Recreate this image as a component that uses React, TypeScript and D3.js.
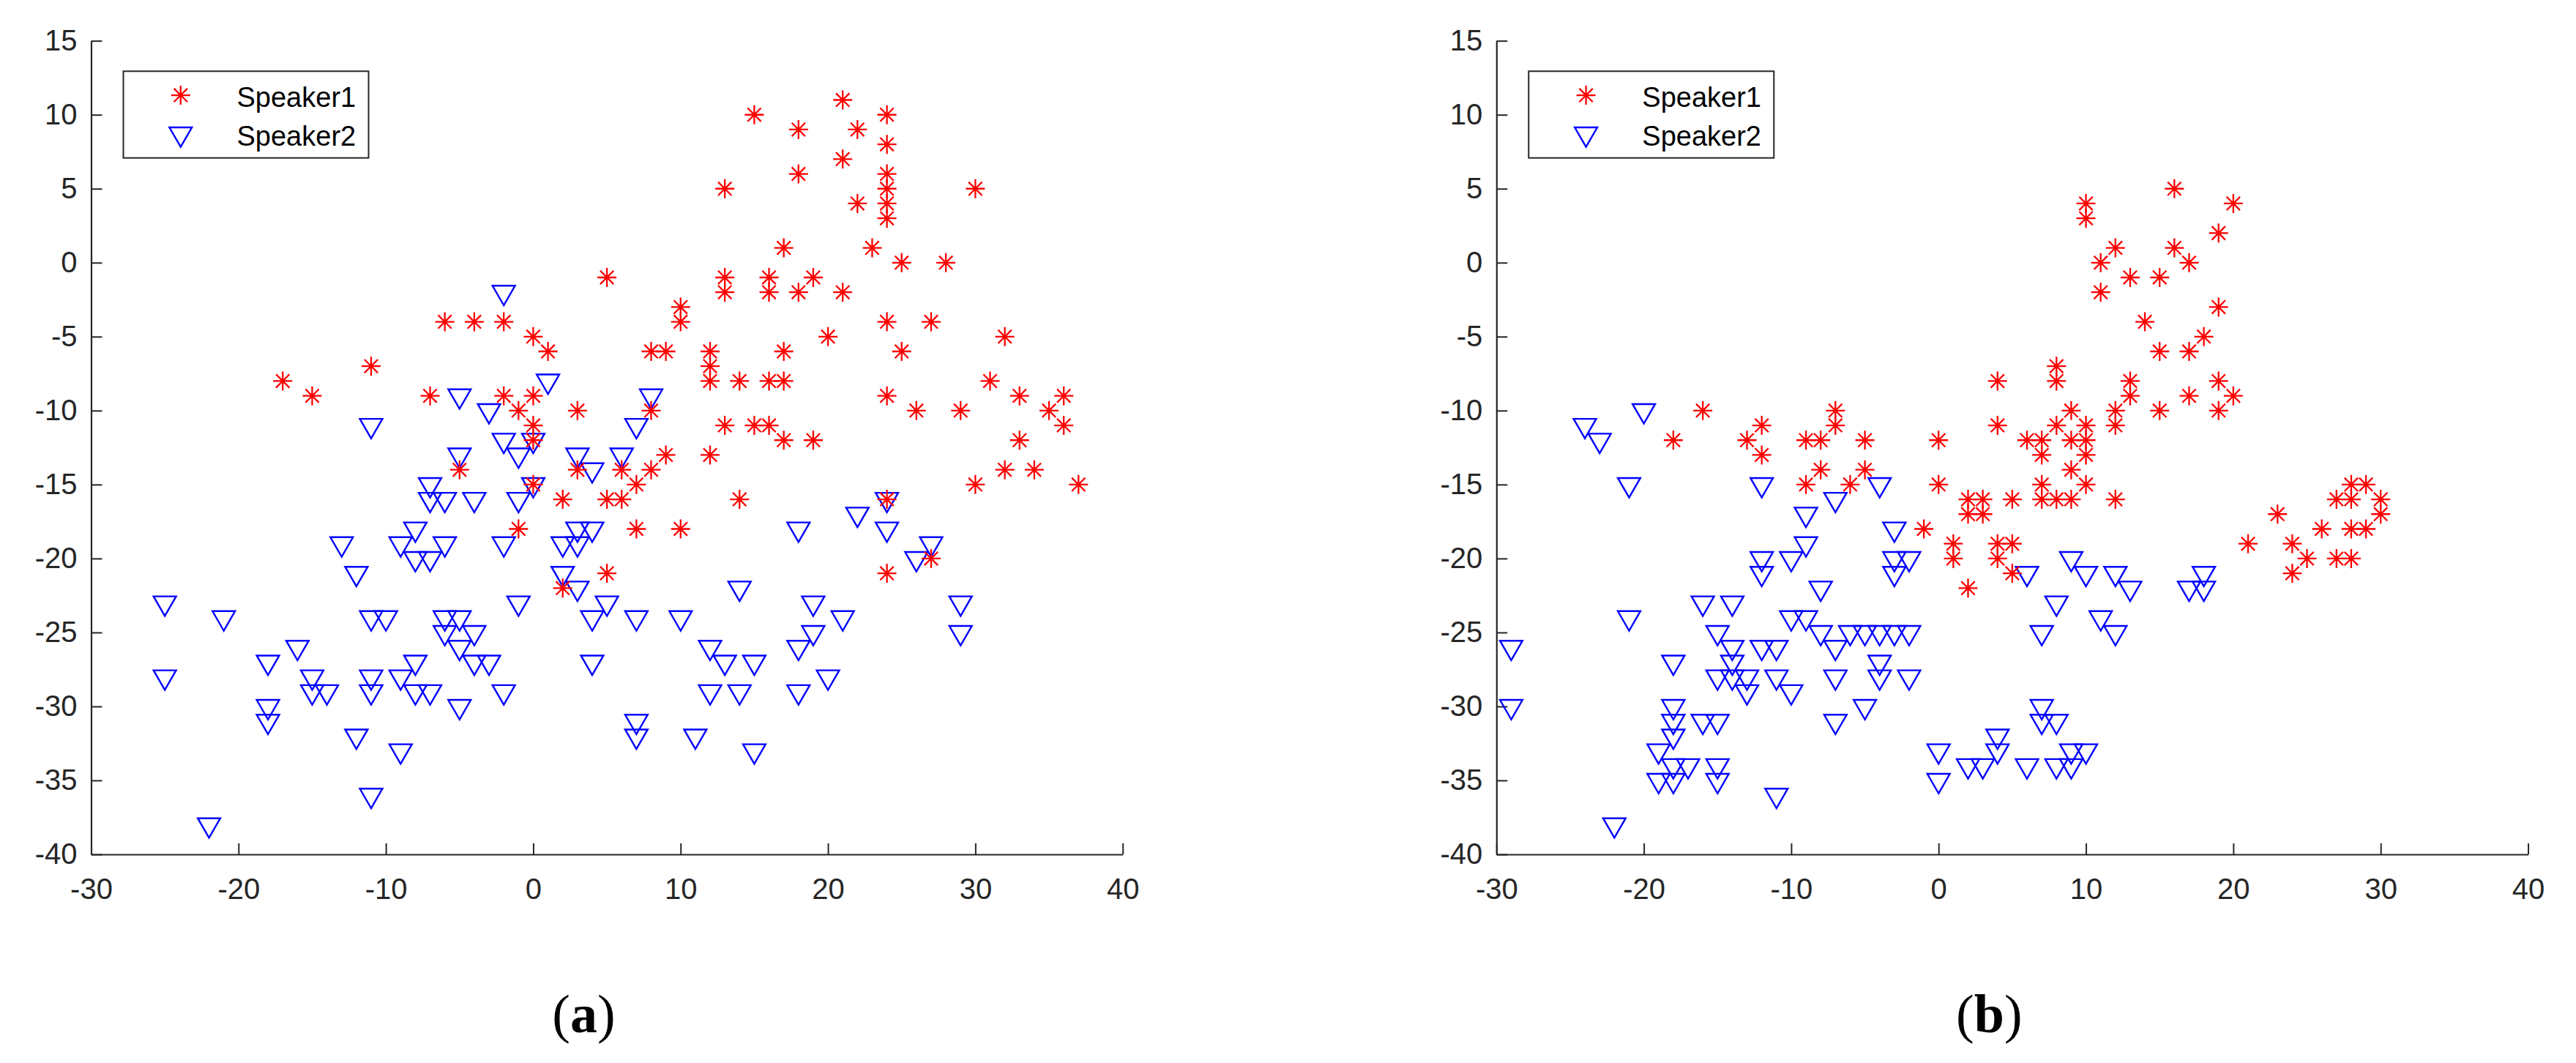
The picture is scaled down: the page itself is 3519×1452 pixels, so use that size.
import React, { useRef, useEffect } from "react";
import * as d3 from "d3";

// panel (a) - Speaker1 (red asterisks)
const speaker1A: [number, number][] = [
  [-6, -4], [-4, -4], [-2, -4], [0, -5], [1, -6], [-11, -7], [-17, -8], [-15, -9],
  [-7, -9], [-2, -9], [0, -9], [-1, -10], [3, -10], [0, -11], [0, -12], [5, -1],
  [-5, -14], [3, -14], [0, -15], [2, -16], [5, -16], [-1, -18], [2, -22], [5, -21],
  [21, 11], [15, 10], [24, 10], [18, 9], [22, 9], [24, 8], [21, 7], [18, 6], [24, 6],
  [13, 5], [24, 5], [30, 5], [22, 4], [24, 4], [24, 3], [17, 1], [23, 1], [25, 0],
  [28, 0], [13, -1], [16, -1], [19, -1], [13, -2], [16, -2], [18, -2], [21, -2],
  [10, -3], [10, -4], [24, -4], [27, -4], [20, -5], [32, -5], [8, -6], [9, -6],
  [12, -6], [17, -6], [25, -6], [12, -7], [12, -8], [14, -8], [16, -8], [17, -8],
  [31, -8], [24, -9], [33, -9], [36, -9], [8, -10], [26, -10], [29, -10], [35, -10],
  [13, -11], [15, -11], [16, -11], [36, -11], [17, -12], [19, -12], [33, -12],
  [9, -13], [12, -13], [6, -14], [8, -14], [32, -14], [34, -14], [7, -15], [30, -15],
  [37, -15], [6, -16], [14, -16], [24, -16], [7, -18], [10, -18], [24, -21], [27, -20],
];

// panel (a) - Speaker2 (blue triangles)
const speaker2A: [number, number][] = [
  [-2, -2], [-5, -9], [1, -8], [-3, -10], [-11, -11], [-2, -12], [0, -12], [-5, -13],
  [-1, -13], [3, -13], [4, -14], [-7, -15], [0, -15], [-7, -16], [-6, -16], [-4, -16],
  [-1, -16], [-8, -18], [3, -18], [4, -18], [-13, -19], [-9, -19], [-6, -19], [-2, -19],
  [2, -19], [3, -19], [-8, -20], [-7, -20], [-12, -21], [2, -21], [3, -22], [5, -23],
  [-25, -23], [-1, -23], [-21, -24], [-11, -24], [-10, -24], [-6, -24], [-5, -24],
  [4, -24], [-6, -25], [-4, -25], [-5, -26], [-16, -26], [-18, -27], [-8, -27],
  [-4, -27], [-3, -27], [4, -27], [-25, -28], [-15, -28], [-11, -28], [-9, -28],
  [-15, -29], [-14, -29], [-11, -29], [-8, -29], [-7, -29], [-2, -29], [-18, -30],
  [-5, -30], [-18, -31], [-12, -32], [-9, -33], [-11, -36], [-22, -38],
  [8, -9], [7, -11], [6, -13], [22, -17], [18, -18], [24, -18], [27, -19], [26, -20],
  [14, -22], [19, -23], [29, -23], [7, -24], [10, -24], [21, -24], [19, -25], [29, -25],
  [12, -26], [18, -26], [13, -27], [15, -27], [20, -28], [12, -29], [14, -29], [18, -29],
  [7, -31], [7, -32], [11, -32], [15, -33], [24, -16],
];

// panel (b) - Speaker1
const speaker1B: [number, number][] = [
  [4, -8], [4, -11], [-16, -10], [-7, -10], [-7, -11], [-12, -11], [-18, -12], [-13, -12],
  [-9, -12], [-8, -12], [-5, -12], [0, -12], [-12, -13], [-8, -14], [-5, -14], [-9, -15],
  [-6, -15], [0, -15], [2, -16], [3, -16], [2, -17], [3, -17], [5, -16], [-1, -18],
  [1, -19], [1, -20], [4, -19], [4, -20], [2, -22], [5, -21], [5, -19],
  [16, 5], [10, 4], [10, 3], [20, 4], [19, 2], [12, 1], [16, 1], [11, 0], [17, 0],
  [13, -1], [15, -1], [11, -2], [19, -3], [14, -4], [18, -5], [15, -6], [17, -6],
  [8, -7], [8, -8], [13, -8], [19, -8], [13, -9], [17, -9], [20, -9], [9, -10],
  [12, -10], [15, -10], [19, -10], [8, -11], [10, -11], [12, -11], [6, -12], [7, -12],
  [9, -12], [10, -12], [7, -13], [10, -13], [9, -14], [7, -15], [10, -15], [7, -16],
  [8, -16], [9, -16], [12, -16], [23, -17], [28, -15], [29, -15], [27, -16], [28, -16],
  [30, -16], [30, -17], [26, -18], [28, -18], [29, -18], [21, -19], [24, -19], [25, -20],
  [27, -20], [28, -20], [24, -21],
];

// panel (b) - Speaker2
const speaker2B: [number, number][] = [
  [-24, -11], [-23, -12], [-20, -10], [-21, -15], [-12, -15], [-4, -15], [-7, -16],
  [-9, -17], [-3, -18], [-9, -19], [-12, -20], [-10, -20], [-3, -20], [-2, -20],
  [-12, -21], [-3, -21], [-8, -22], [-16, -23], [-14, -23], [-21, -24], [-10, -24],
  [-9, -24], [-15, -25], [-8, -25], [-6, -25], [-5, -25], [-4, -25], [-3, -25], [-2, -25],
  [-29, -26], [-14, -26], [-12, -26], [-11, -26], [-7, -26], [-18, -27], [-14, -27],
  [-4, -27], [-15, -28], [-14, -28], [-13, -28], [-11, -28], [-7, -28], [-4, -28],
  [-2, -28], [-13, -29], [-10, -29], [-29, -30], [-18, -30], [-5, -30], [-18, -31],
  [-16, -31], [-15, -31], [-7, -31], [-18, -32], [-19, -33], [0, -33], [4, -32], [4, -33],
  [-18, -34], [-17, -34], [-15, -34], [2, -34], [3, -34], [-19, -35], [-18, -35],
  [-15, -35], [0, -35], [-11, -36], [-22, -38],
  [6, -21], [9, -20], [10, -21], [12, -21], [13, -22], [17, -22], [18, -22], [18, -21],
  [8, -23], [11, -24], [7, -25], [12, -25], [7, -30], [7, -31], [8, -31], [9, -33],
  [10, -33], [6, -34], [8, -34], [9, -34],
];

const xTicks = [-30, -20, -10, 0, 10, 20, 30, 40];
const yTicks = [15, 10, 5, 0, -5, -10, -15, -20, -25, -30, -35, -40];
const seriesNames = ["Speaker1", "Speaker2"];
const panelLabels = ["a", "b"];

const panels = [
  { s1: speaker1A, s2: speaker2A, left: 124.5 },
  { s1: speaker1B, s2: speaker2B, left: 2044.3 },
];

const axisColor = "#262626";
const sans = "'Liberation Sans', Arial, Helvetica, sans-serif";

// MATLAB style '*' marker (plus + x)
const asteriskPath = (r) => {
  const d = r / Math.SQRT2;
  return `M${-r},0H${r}M0,${-r}V${r}M${-d},${-d}L${d},${d}M${-d},${d}L${d},${-d}`;
};

// MATLAB style 'v' marker, centred on its centroid
const triangleDownPath = (r) => {
  const h = (r * Math.sqrt(3)) / 2;
  return `M0,${r}L${-h},${-r / 2}L${h},${-r / 2}Z`;
};

const App = () => {
  const ref = useRef(null);

  useEffect(() => {
    const svg = d3.select(ref.current);
    svg.selectAll("*").remove();

    const width = 1409.2;
    const top = 55.7;
    const bottom = 1167;

    panels.forEach((p, i) => {
      const x = d3.scaleLinear().domain([-30, 40]).range([p.left, p.left + width]);
      const y = d3.scaleLinear().domain([-40, 15]).range([bottom, top]);
      const g = svg.append("g");

      // x axis (ticks pointing in)
      const gx = g
        .append("g")
        .attr("transform", `translate(0,${bottom})`)
        .call(
          d3
            .axisBottom(x)
            .tickValues(xTicks)
            .tickSizeInner(-15)
            .tickSizeOuter(0)
            .tickPadding(33)
            .tickFormat((d) => String(d))
        );

      // y axis
      const gy = g
        .append("g")
        .attr("transform", `translate(${p.left},0)`)
        .call(
          d3
            .axisLeft(y)
            .tickValues(yTicks)
            .tickSizeInner(-15)
            .tickSizeOuter(0)
            .tickPadding(19)
            .tickFormat((d) => String(d))
        );

      [gx, gy].forEach((ax) => {
        ax.attr("font-size", 40).attr("font-family", sans);
        ax.select(".domain").attr("stroke", axisColor).attr("stroke-width", 2.2);
        ax.selectAll(".tick line").attr("stroke", axisColor).attr("stroke-width", 2);
        ax.selectAll(".tick text").attr("fill", axisColor);
      });

      // Speaker2 first so the asterisks sit on top
      g.append("g")
        .selectAll("path")
        .data(p.s2)
        .enter()
        .append("path")
        .attr("transform", (d) => `translate(${x(d[0])},${y(d[1])})`)
        .attr("d", triangleDownPath(17.8))
        .attr("fill", "none")
        .attr("stroke", "#0000FF")
        .attr("stroke-width", 2.4);

      g.append("g")
        .selectAll("path")
        .data(p.s1)
        .enter()
        .append("path")
        .attr("transform", (d) => `translate(${x(d[0])},${y(d[1])})`)
        .attr("d", asteriskPath(13))
        .attr("fill", "none")
        .attr("stroke", "#FF0000")
        .attr("stroke-width", 2.3);

      // legend
      const lg = g.append("g").attr("transform", `translate(${p.left + 44},97.3)`);
      lg.append("rect")
        .attr("width", 335)
        .attr("height", 118.4)
        .attr("fill", "#fff")
        .attr("stroke", axisColor)
        .attr("stroke-width", 2);
      lg.append("path")
        .attr("transform", "translate(78.3,32.8)")
        .attr("d", asteriskPath(13))
        .attr("fill", "none")
        .attr("stroke", "#FF0000")
        .attr("stroke-width", 2.3);
      lg.append("path")
        .attr("transform", "translate(78.3,85.6)")
        .attr("d", triangleDownPath(17.8))
        .attr("fill", "none")
        .attr("stroke", "#0000FF")
        .attr("stroke-width", 2.4);
      lg.selectAll("text.name")
        .data(seriesNames)
        .enter()
        .append("text")
        .attr("class", "name")
        .attr("x", 155)
        .attr("y", (d, k) => 48.4 + k * 53.3)
        .attr("font-family", sans)
        .attr("font-size", 38)
        .attr("fill", "#000")
        .text((d) => d);

      // sub-figure label
      const lbl = g
        .append("text")
        .attr("x", p.left + 673)
        .attr("y", 1410)
        .attr("text-anchor", "middle")
        .attr("font-family", "'Liberation Serif', 'Times New Roman', serif")
        .attr("font-size", 74)
        .attr("fill", "#000");
      lbl.append("tspan").text("(");
      lbl.append("tspan").attr("font-weight", "bold").text(panelLabels[i]);
      lbl.append("tspan").text(")");
    });
  }, []);

  return (
    <svg
      ref={ref}
      width={3519}
      height={1452}
      style={{ position: "absolute", left: 0, top: 0, display: "block", background: "#fff" }}
    />
  );
};

export default App;
